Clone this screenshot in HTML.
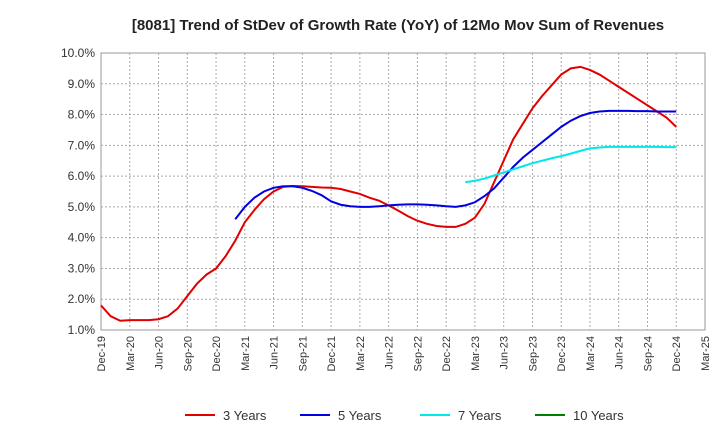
<!DOCTYPE html>
<html><head><meta charset="utf-8"><style>
body{margin:0;background:#fff;font-family:"Liberation Sans",sans-serif}
svg text{font-family:"Liberation Sans",sans-serif}
</style></head><body>
<svg id="c" width="720" height="440" xmlns="http://www.w3.org/2000/svg">
<text x="398" y="30" text-anchor="middle" font-size="15" font-weight="bold" fill="#222">[8081]  Trend of StDev of Growth Rate (YoY) of 12Mo Mov Sum of Revenues</text>
<g id="grid"></g><g id="axes"></g><g id="series"></g><g id="legend"></g>
</svg>
<script>
const xLabels=["Dec-19","Mar-20","Jun-20","Sep-20","Dec-20","Mar-21","Jun-21","Sep-21","Dec-21","Mar-22","Jun-22","Sep-22","Dec-22","Mar-23","Jun-23","Sep-23","Dec-23","Mar-24","Jun-24","Sep-24","Dec-24","Mar-25"];
const yTicks=[1,2,3,4,5,6,7,8,9,10];
const s3Start=0;
const s3=[1.8,1.45,1.3,1.32,1.32,1.32,1.35,1.45,1.7,2.1,2.5,2.8,3.0,3.4,3.9,4.5,4.9,5.25,5.5,5.65,5.68,5.67,5.65,5.63,5.62,5.58,5.5,5.42,5.3,5.2,5.05,4.88,4.7,4.55,4.45,4.38,4.35,4.35,4.45,4.65,5.1,5.8,6.5,7.2,7.7,8.2,8.6,8.95,9.3,9.5,9.55,9.45,9.3,9.1,8.9,8.7,8.5,8.3,8.1,7.9,7.6];
const s5Start=14;
const s5=[4.6,5.0,5.3,5.5,5.62,5.67,5.67,5.62,5.52,5.38,5.18,5.07,5.02,5.0,5.0,5.02,5.05,5.07,5.08,5.08,5.07,5.05,5.02,5.0,5.05,5.15,5.35,5.6,5.95,6.3,6.6,6.85,7.1,7.35,7.6,7.8,7.95,8.05,8.1,8.12,8.12,8.12,8.11,8.11,8.1,8.1,8.1];
const s7Start=38;
const s7=[5.8,5.85,5.92,6.02,6.12,6.22,6.32,6.42,6.5,6.58,6.65,6.73,6.82,6.9,6.93,6.95,6.95,6.95,6.95,6.95,6.95,6.94,6.94];
const seriesNames=["3 Years","5 Years","7 Years","10 Years"];
const seriesColors=["#e00000","#0000e0","#00e8e8","#008000"];
const NS="http://www.w3.org/2000/svg";
const L=101,R=705,T=53,B=330;
const xm=m=>L+m*(R-L)/63;
const y=v=>B-(v-1)*(B-T)/9;
function mk(t,a,p){const e=document.createElementNS(NS,t);for(const k in a)e.setAttribute(k,a[k]);p.appendChild(e);return e;}
const grid=document.getElementById('grid'),axes=document.getElementById('axes'),ser=document.getElementById('series'),leg=document.getElementById('legend');
yTicks.forEach(v=>{
 const g=mk('line',{x1:L,x2:R,y1:y(v),y2:y(v),stroke:'#aaa','stroke-dasharray':'2,2'},grid);
 
 
 const t=mk('text',{x:L-6,y:y(v)+4,'text-anchor':'end','font-size':12,fill:'#333'},axes);
 t.textContent=v.toFixed(1)+'%';
 
 
});
xLabels.forEach((lab,i)=>{
 const x=xm(i*3);
 const g=mk('line',{x1:x,x2:x,y1:T,y2:B,stroke:'#aaa','stroke-dasharray':'2,2'},grid);
 
 
 const t=mk('text',{x:x+4,y:B+6,'text-anchor':'end','font-size':11,fill:'#333',transform:`rotate(-90 ${x+4} ${B+6})`},axes);
 t.textContent=lab;
 
 
});
const box=mk('rect',{x:L,y:T,width:R-L,height:B-T,fill:'none',stroke:'#999'},axes);


[[s3,s3Start],[s5,s5Start],[s7,s7Start]].forEach(([d,st],k)=>{
 const p=mk('polyline',{points:d.map((v,i)=>xm(st+i)+','+y(v)).join(' '),fill:'none',stroke:seriesColors[k],'stroke-width':2},ser);
 
 
});
const lx=[185,300,420,535];
seriesNames.forEach((n,k)=>{
 const l=mk('line',{x1:lx[k],x2:lx[k]+30,y1:415,y2:415,stroke:seriesColors[k],'stroke-width':2},leg);
 
 
 const t=mk('text',{x:lx[k]+38,y:420,'font-size':13,fill:'#333'},leg);
 t.textContent=n;
 
 
});
</script>
</body></html>
